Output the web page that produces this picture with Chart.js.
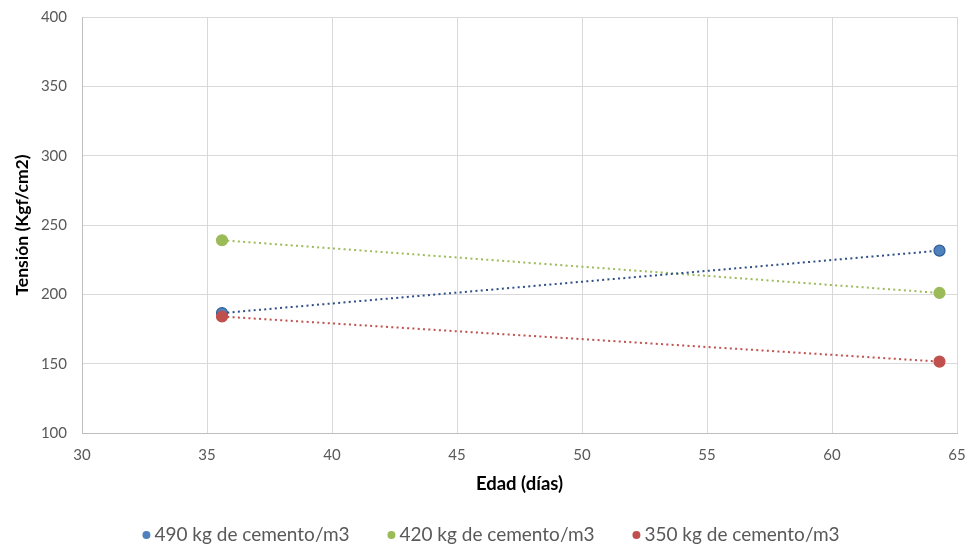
<!DOCTYPE html>
<html>
<head>
<meta charset="utf-8">
<script src="https://cdn.jsdelivr.net/npm/chart.js@4.4.1/dist/chart.umd.min.js"></script>
<style>
  html, body { margin: 0; padding: 0; background: #fff; }
  #wrap { width: 966px; height: 546px; }
</style>
</head>
<body>
<div id="wrap"><canvas id="c" width="966" height="546"></canvas></div>
<script>
// Edad de ensayo (días) y tensión por dosificación de cemento (Kgf/cm2)
const edades = [35.6, 64.3];
const serieNombres = ['490 kg de cemento/m3', '420 kg de cemento/m3', '350 kg de cemento/m3'];
const tension490 = [186.5, 231.5];
const tension420 = [239, 201];
const tension350 = [184, 151.5];
const xTicks = [30, 35, 40, 45, 50, 55, 60, 65];
const yTicks = [100, 150, 200, 250, 300, 350, 400];

const FUENTE = 'Lato, "Open Sans", sans-serif';
const colores = [
  { fill: '#4F81BD', border: '#2F5D95', trend: '#2E4E87' },
  { fill: '#9BBB59', border: '#9BBB59', trend: '#9BBB59' },
  { fill: '#C0504D', border: '#C0504D', trend: '#C0504D' }
];
const series = [tension490, tension420, tension350];

const puntos = (ys) => edades.map((x, i) => ({ x: x, y: ys[i] }));

const datasets = [];
series.forEach((ys, i) => {
  datasets.push({
    label: serieNombres[i],
    data: puntos(ys),
    showLine: false,
    pointRadius: 5.5,
    pointHoverRadius: 5.5,
    pointBackgroundColor: colores[i].fill,
    pointBorderColor: colores[i].border,
    pointBorderWidth: 1.2,
    backgroundColor: colores[i].fill,
    borderColor: colores[i].fill,
    order: 3 - i
  });
});
// Líneas de tendencia lineales punteadas
series.forEach((ys, i) => {
  datasets.push({
    label: 'tendencia ' + serieNombres[i],
    data: puntos(ys),
    showLine: true,
    pointRadius: 0,
    borderColor: colores[i].trend,
    borderWidth: 2,
    borderDash: [2, 3.3],
    borderCapStyle: 'butt',
    fill: false,
    order: 10 + i,
    esTendencia: true
  });
});

// Leyenda inferior: un círculo y el nombre de cada serie, con separación amplia
const leyendaInferior = {
  id: 'leyendaInferior',
  afterDraw(chart) {
    const ctx = chart.ctx;
    const items = chart.data.datasets.filter(d => !d.esTendencia);
    ctx.save();
    ctx.font = '19px ' + FUENTE;
    ctx.textBaseline = 'middle';
    ctx.textAlign = 'left';
    const paso = 245, offTexto = 8, r = 4;
    const ultimo = ctx.measureText(items[items.length - 1].label).width;
    const total = paso * (items.length - 1) + offTexto + ultimo;
    let x = chart.width / 2 + 10 - total / 2;
    const y = chart.height - 11;
    items.forEach((d) => {
      ctx.beginPath();
      ctx.arc(x, y, r, 0, Math.PI * 2);
      ctx.fillStyle = d.pointBackgroundColor;
      ctx.fill();
      ctx.fillStyle = '#595959';
      ctx.fillText(d.label, x + offTexto, y);
      x += paso;
    });
    ctx.restore();
  }
};

new Chart(document.getElementById('c'), {
  type: 'scatter',
  data: { datasets: datasets },
  plugins: [leyendaInferior],
  options: {
    responsive: false,
    animation: false,
    layout: { padding: { left: 12, right: 9, top: 17, bottom: 51 } },
    plugins: {
      tooltip: { enabled: false },
      legend: { display: false }
    },
    scales: {
      x: {
        type: 'linear',
        min: 30,
        max: 65,
        afterBuildTicks: (ax) => { ax.ticks = xTicks.map(v => ({ value: v })); },
        afterFit: (ax) => { ax.height = 62; },
        grid: { color: '#D9D9D9', lineWidth: 1, drawTicks: true, tickLength: 13, tickColor: 'rgba(0,0,0,0)' },
        border: { color: '#BFBFBF' },
        ticks: { color: '#595959', font: { family: FUENTE, size: 15 }, padding: 0 },
        title: {
          display: true,
          text: 'Edad (días)',
          color: '#000',
          font: { family: FUENTE, size: 18.5, weight: 'bold' },
          padding: { top: 0, bottom: 0 }
        }
      },
      y: {
        type: 'linear',
        min: 100,
        max: 400,
        afterBuildTicks: (ax) => { ax.ticks = yTicks.map(v => ({ value: v })); },
        afterFit: (ax) => { ax.width = 70; },
        grid: { color: '#D9D9D9', lineWidth: 1, drawTicks: true, tickLength: 15, tickColor: 'rgba(0,0,0,0)' },
        border: { color: '#BFBFBF' },
        ticks: { color: '#595959', font: { family: FUENTE, size: 15 }, padding: 0 },
        title: {
          display: true,
          text: 'Tensión (Kgf/cm2)',
          color: '#000',
          font: { family: FUENTE, size: 17.5, weight: 'bold' },
          padding: { top: 0, bottom: 0 }
        }
      }
    }
  }
});
</script>
</body>
</html>
